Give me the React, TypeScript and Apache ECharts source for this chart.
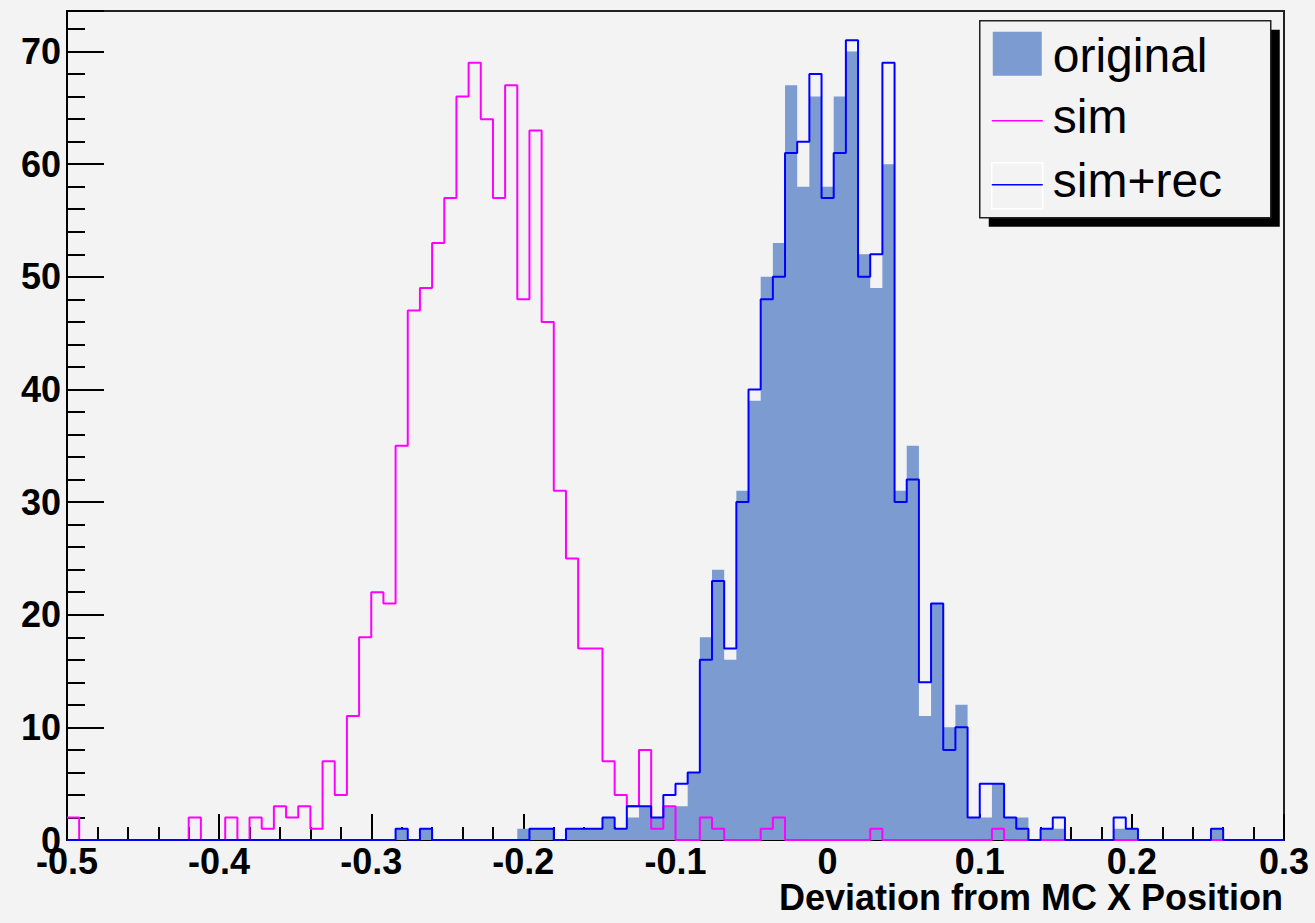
import React, { useEffect, useRef } from "react";
import * as echarts from "echarts";

// Histogram binning: 100 bins from -0.5 to 0.3
const binLow = -0.5;
const binHigh = 0.3;
const binCount = 100;

const original = [
  0, 0, 0, 0, 0, 0, 0, 0, 0, 0,
  0, 0, 0, 0, 0, 0, 0, 0, 0, 0,
  0, 0, 0, 0, 0, 0, 0, 1, 0, 1,
  0, 0, 0, 0, 0, 0, 0, 1, 1, 1,
  0, 1, 1, 1, 2, 1, 2, 3, 2, 3,
  3, 6, 18, 24, 16, 31, 39, 50, 53, 67,
  58, 66, 58, 66, 70, 52, 49, 60, 31, 35,
  11, 21, 10, 12, 2, 2, 5, 2, 2, 0,
  1, 1, 0, 0, 0, 0, 1, 1, 0, 0,
  0, 0, 0, 0, 1, 0, 0, 0, 0, 0,
];

const sim = [
  2, 0, 0, 0, 0, 0, 0, 0, 0, 0,
  2, 0, 0, 2, 0, 2, 1, 3, 2, 3,
  1, 7, 4, 11, 18, 22, 21, 35, 47, 49,
  53, 57, 66, 69, 64, 57, 67, 48, 63, 46,
  31, 25, 17, 17, 7, 4, 3, 8, 1, 3,
  0, 0, 2, 1, 0, 0, 0, 1, 2, 0,
  0, 0, 0, 0, 0, 0, 1, 0, 0, 0,
  0, 0, 0, 0, 0, 0, 1, 0, 0, 0,
  0, 0, 0, 0, 0, 0, 0, 0, 0, 0,
  0, 0, 0, 0, 0, 0, 0, 0, 0, 0,
];

const simRec = [
  0, 0, 0, 0, 0, 0, 0, 0, 0, 0,
  0, 0, 0, 0, 0, 0, 0, 0, 0, 0,
  0, 0, 0, 0, 0, 0, 0, 1, 0, 1,
  0, 0, 0, 0, 0, 0, 0, 0, 1, 1,
  0, 1, 1, 1, 2, 1, 3, 3, 2, 4,
  5, 6, 16, 23, 17, 30, 40, 48, 50, 61,
  62, 68, 57, 61, 71, 50, 52, 69, 30, 32,
  14, 21, 8, 10, 2, 5, 5, 2, 1, 0,
  1, 2, 0, 0, 0, 0, 2, 1, 0, 0,
  0, 0, 0, 0, 1, 0, 0, 0, 0, 0,
];

const legendLabels = ["original", "sim", "sim+rec"];
const xTitle = "Deviation from MC X Position";
const yMax = 73.6;

function stepData(values: number[]): [number, number][] {
  const w = (binHigh - binLow) / binCount;
  const pts: [number, number][] = values.map((v, i) => [binLow + i * w, v]);
  pts.push([binHigh, values[values.length - 1]]);
  return pts;
}

const FONT = "'Liberation Sans', Arial, Helvetica, sans-serif";
const BG = "#f3f3f3";
const FILL = "#7b9bd1";

export default function App() {
  const ref = useRef<HTMLDivElement>(null);
  useEffect(() => {
    if (!ref.current) return;
    const chart = echarts.init(ref.current, undefined, { renderer: "svg" });
    const option: any = {
      animation: false,
      backgroundColor: BG,
      grid: {
        left: 67,
        right: 31,
        top: 11,
        bottom: 83,
        show: true,
        borderColor: "#222",
        borderWidth: 2,
        backgroundColor: "transparent",
      },
      xAxis: {
        type: "value",
        min: binLow,
        max: binHigh,
        interval: 0.1,
        axisLine: { show: true, onZero: false, lineStyle: { color: "#000", width: 2 } },
        axisTick: { show: true, inside: true, length: 26, lineStyle: { color: "#000", width: 2 } },
        minorTick: { show: true, splitNumber: 5, length: 13, lineStyle: { color: "#000", width: 2 } },
        splitLine: { show: false },
        axisLabel: {
          margin: 9,
          fontFamily: FONT,
          fontWeight: "bold",
          fontSize: 36,
          lineHeight: 24,
          color: "#000",
          showMinLabel: true,
          showMaxLabel: true,
          formatter: (v: number) => {
            const r = Math.round(v * 10) / 10;
            return r === 0 ? "0" : String(r);
          },
        },
      },
      yAxis: {
        type: "value",
        min: 0,
        max: yMax,
        interval: 10,
        axisLine: { show: true, onZero: false, lineStyle: { color: "#000", width: 2 } },
        axisTick: { show: true, inside: true, length: 37, lineStyle: { color: "#000", width: 2 } },
        minorTick: { show: true, splitNumber: 5, length: 18, lineStyle: { color: "#000", width: 2 } },
        splitLine: { show: false },
        axisLabel: {
          margin: 6,
          fontFamily: FONT,
          fontWeight: "bold",
          fontSize: 36,
          lineHeight: 24,
          color: "#000",
          showMaxLabel: false,
          formatter: (v: number) => (Math.abs(v % 10) < 1e-6 ? String(Math.round(v)) : ""),
        },
      },
      series: [
        {
          name: legendLabels[0],
          type: "line",
          step: "end",
          data: stepData(original),
          symbol: "none",
          showSymbol: false,
          clip: false,
          lineStyle: { width: 0, color: FILL },
          areaStyle: { color: FILL, opacity: 1 },
          z: 2,
        },
        {
          name: legendLabels[1],
          type: "line",
          step: "end",
          data: stepData(sim),
          symbol: "none",
          showSymbol: false,
          clip: false,
          lineStyle: { width: 2, color: "#ff00ff" },
          z: 3,
        },
        {
          name: legendLabels[2],
          type: "line",
          step: "end",
          data: stepData(simRec),
          symbol: "none",
          showSymbol: false,
          clip: false,
          lineStyle: { width: 2, color: "#0000ff" },
          z: 4,
        },
      ],
      graphic: [
        {
          type: "text",
          x: 1283,
          y: 897,
          style: {
            text: xTitle,
            fontFamily: FONT,
            fontWeight: "bold",
            fontSize: 36,
            lineHeight: 28,
            fill: "#000",
            align: "right",
            verticalAlign: "middle",
          },
        },
        {
          type: "group",
          left: 979,
          top: 20,
          children: [
            { type: "rect", shape: { x: 9, y: 9, width: 291, height: 197 }, style: { fill: "#000" } },
            { type: "rect", shape: { x: 0, y: 0, width: 291, height: 197 }, style: { fill: BG, stroke: "#222", lineWidth: 1.5 } },
            { type: "rect", shape: { x: 13, y: 11, width: 49, height: 44 }, style: { fill: FILL } },
            {
              type: "text",
              x: 73,
              y: 35,
              style: { text: legendLabels[0], fontFamily: FONT, fontSize: 48, fill: "#000", verticalAlign: "middle" },
            },
            { type: "line", shape: { x1: 12, y1: 100, x2: 63, y2: 100 }, style: { stroke: "#ff00ff", lineWidth: 1.5 } },
            {
              type: "text",
              x: 73,
              y: 96,
              style: { text: legendLabels[1], fontFamily: FONT, fontSize: 48, fill: "#000", verticalAlign: "middle" },
            },
            { type: "rect", shape: { x: 12, y: 142, width: 51, height: 46 }, style: { fill: "none", stroke: "#fff", lineWidth: 1.5 } },
            { type: "line", shape: { x1: 12, y1: 164, x2: 63, y2: 164 }, style: { stroke: "#0000ff", lineWidth: 1.5 } },
            {
              type: "text",
              x: 73,
              y: 160,
              style: { text: legendLabels[2], fontFamily: FONT, fontSize: 48, fill: "#000", verticalAlign: "middle" },
            },
          ],
        },
      ],
    };
    chart.setOption(option);
    return () => chart.dispose();
  }, []);
  return (
    <div
      ref={ref}
      style={{ position: "fixed", left: 0, top: 0, width: 1315, height: 923, background: BG }}
    />
  );
}
